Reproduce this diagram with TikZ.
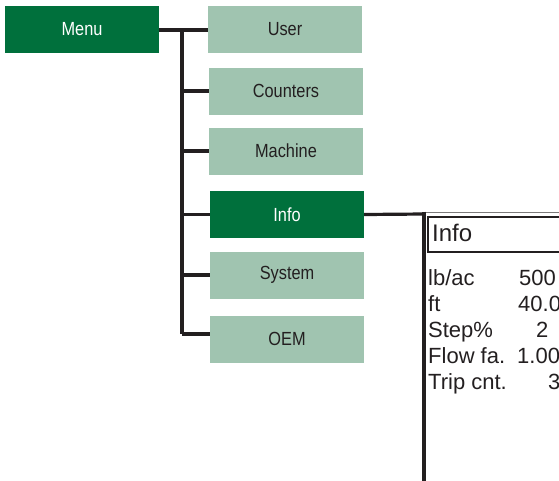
\documentclass[tikz,border=0pt]{standalone}
\usepackage{fontspec}
\setmainfont{Liberation Sans}
\newfontfamily\boxfont[FakeStretch=0.86]{Liberation Sans}
\definecolor{dkgreen}{RGB}{0,112,60}
\definecolor{ltgreen}{RGB}{160,196,176}
\definecolor{ink}{RGB}{35,31,32}
\begin{document}
\begin{tikzpicture}[x=1pt,y=-1pt,
  menubox/.style={minimum width=154pt,minimum height=47pt,inner sep=0pt,
    font=\boxfont\fontsize{19}{20}\selectfont},
  darkbox/.style={menubox,fill=dkgreen,text=white},
  lightbox/.style={menubox,fill=ltgreen,text=ink},
  tree/.style={draw=ink,line width=3.2pt},
  screentxt/.style={anchor=base west,inner sep=0pt,text=ink,font=\fontsize{22}{24}\selectfont}]
\useasboundingbox (0,0) rectangle (559,480);
\clip (0,0) rectangle (559,480);
% menu boxes
\node[darkbox]  (menu)     at (82,29.5)  {Menu};
\node[lightbox] (user)     at (285,29.5) {User};
\node[lightbox] (counters) at (286,91)   {Counters};
\node[lightbox] (machine)  at (286,151)  {Machine};
\node[darkbox]  (info)     at (287,214.5){Info};
\node[lightbox] (system)   at (287,275)  {System};
\node[lightbox] (oem)      at (287,339)  {OEM};
% tree connectors
\coordinate (trunktop) at (182,30);
\coordinate (trunkbot) at (182,334);
\draw[tree] (menu.east |- trunktop) -- (user.west |- trunktop);
\draw[tree] (trunktop) -- (trunkbot);
\draw[tree] (trunktop |- counters.west) -- (counters.west);
\draw[tree] (trunktop |- machine.west) -- (machine.west);
\draw[tree] (trunktop |- info.west) -- (info.west);
\draw[tree] (trunktop |- system.west) -- (system.west);
\draw[tree] (trunkbot) -- (oem.west |- trunkbot);
% screen
\coordinate (frame) at (424,214);
\draw[tree] (info.east) -- (frame);
\draw[draw=ink!60,line width=1.2pt] (423,212.5) -- (570,212.5);
\draw[draw=ink,line width=3.2pt] (424,211.5) -- (424,490);
\draw[draw=ink,line width=2.4pt] (428,217) rectangle (580,252);
\node[screentxt,font=\fontsize{24}{26}\selectfont] (title) at (432,241.5) {Info};
\node[screentxt] (r1) at (428,285) {lb/ac};
\node[screentxt] (r2) at (428,311) {ft};
\node[screentxt] (r3) at (428,337) {Step\%};
\node[screentxt] (r4) at (428,363) {Flow fa.};
\node[screentxt] (r5) at (428,389) {Trip cnt.};
\node[screentxt] (v1) at (519,285) {500};
\node[screentxt] (v2) at (518,311) {40.0};
\node[screentxt] (v3) at (536,337) {2};
\node[screentxt] (v4) at (517,363) {1.00};
\node[screentxt] (v5) at (548,389) {3};
\end{tikzpicture}
\end{document}
